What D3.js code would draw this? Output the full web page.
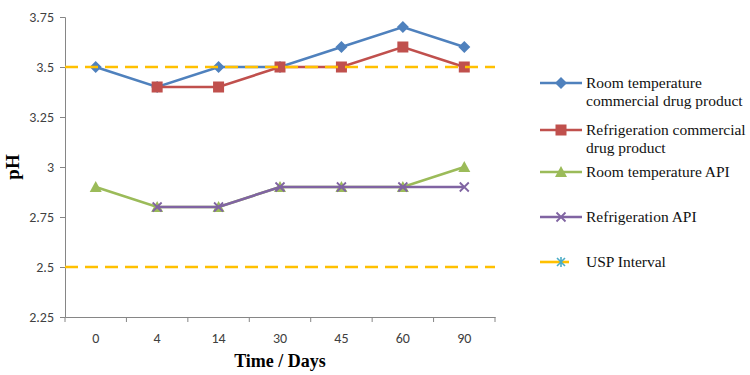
<!DOCTYPE html>
<html>
<head>
<meta charset="utf-8">
<script src="https://cdn.jsdelivr.net/npm/d3@7"></script>
<style>
  body { margin: 0; background: #fff; }
  svg { display: block; }
</style>
</head>
<body>
<svg id="chart" width="750" height="375"></svg>
<script>
// categories and series values
var days = ["0", "4", "14", "30", "45", "60", "90"];
var roomCommercial = [3.5, 3.4, 3.5, 3.5, 3.6, 3.7, 3.6];
var fridgeCommercial = [null, 3.4, 3.4, 3.5, 3.5, 3.6, 3.5];
var roomAPI = [2.9, 2.8, 2.8, 2.9, 2.9, 2.9, 3.0];
var fridgeAPI = [null, 2.8, 2.8, 2.9, 2.9, 2.9, 2.9];
var uspInterval = [3.5, 2.5];
var yTicks = [2.25, 2.5, 2.75, 3, 3.25, 3.5, 3.75];

var series = [
  {name: ["Room temperature", "commercial drug product"], values: roomCommercial, color: "#4F81BD", marker: "diamond"},
  {name: ["Refrigeration commercial", "drug product"], values: fridgeCommercial, color: "#C0504D", marker: "square"},
  {name: ["Room temperature API"], values: roomAPI, color: "#9BBB59", marker: "triangle"},
  {name: ["Refrigeration API"], values: fridgeAPI, color: "#8064A2", marker: "cross"}
];

var plotLeft = 65, plotRight = 495, plotTop = 17, plotBottom = 317;

var svg = d3.select("svg#chart");

var x = d3.scaleBand().domain(days).range([plotLeft, plotRight]).padding(0);
var y = d3.scaleLinear().domain([2.25, 3.75]).range([plotBottom, plotTop]);

var axisColor = "#868686";
var tickFont = "Carlito, Calibri, 'Liberation Sans', Arial, sans-serif";

// y axis
var yAxis = svg.append("g")
    .attr("transform", "translate(" + plotLeft + ",0)")
    .call(d3.axisLeft(y).tickValues(yTicks).tickSize(5).tickPadding(6)
      .tickFormat(function(d) { return String(d); }));
yAxis.select(".domain").attr("stroke", axisColor);
yAxis.selectAll(".tick line").attr("stroke", axisColor);
yAxis.selectAll(".tick text")
    .attr("fill", "#404040")
    .style("font-family", tickFont)
    .style("font-size", "14px");

// x axis (labels at band centers, ticks at band edges)
var xAxis = svg.append("g")
    .attr("transform", "translate(0," + plotBottom + ")")
    .call(d3.axisBottom(x).tickSize(0).tickPadding(16));
xAxis.select(".domain").attr("stroke", axisColor);
xAxis.selectAll(".tick text")
    .attr("fill", "#404040")
    .style("font-family", tickFont)
    .style("font-size", "14px");

var edges = days.map(function(d) { return x(d); }).concat([x.range()[1]]);
svg.append("g").selectAll("line").data(edges).enter().append("line")
    .attr("x1", function(d) { return d; })
    .attr("x2", function(d) { return d; })
    .attr("y1", plotBottom)
    .attr("y2", plotBottom + 5)
    .attr("stroke", axisColor);

// axis titles
svg.append("text")
    .attr("x", (plotLeft + plotRight) / 2)
    .attr("y", 367)
    .attr("text-anchor", "middle")
    .style("font-family", "'Liberation Serif', 'Times New Roman', serif")
    .style("font-weight", "bold")
    .style("font-size", "18px")
    .text("Time / Days");

svg.append("text")
    .attr("transform", "translate(19," + ((plotTop + plotBottom) / 2) + ") rotate(-90)")
    .attr("text-anchor", "middle")
    .style("font-family", "'Liberation Serif', 'Times New Roman', serif")
    .style("font-weight", "bold")
    .style("font-size", "19px")
    .text("pH");

function cx(i) { return x(days[i]) + x.bandwidth() / 2; }

function drawMarker(g, type, color, px, py) {
  if (type === "diamond") {
    g.append("path")
      .attr("d", "M0,-6L6,0L0,6L-6,0Z")
      .attr("transform", "translate(" + px + "," + py + ")")
      .attr("fill", color);
  } else if (type === "square") {
    g.append("rect")
      .attr("x", px - 5.5).attr("y", py - 5.5)
      .attr("width", 11).attr("height", 11)
      .attr("fill", color);
  } else if (type === "triangle") {
    g.append("path")
      .attr("d", "M0,-6L6,5L-6,5Z")
      .attr("transform", "translate(" + px + "," + py + ")")
      .attr("fill", color);
  } else if (type === "cross") {
    g.append("path")
      .attr("d", "M-4.5,-4.5L4.5,4.5M-4.5,4.5L4.5,-4.5")
      .attr("transform", "translate(" + px + "," + py + ")")
      .attr("stroke", color)
      .attr("stroke-width", 1.8)
      .attr("fill", "none");
  } else if (type === "star") {
    g.append("path")
      .attr("d", "M-4,-4L4,4M-4,4L4,-4M0,-5L0,5")
      .attr("transform", "translate(" + px + "," + py + ")")
      .attr("stroke", color)
      .attr("stroke-width", 1.6)
      .attr("fill", "none");
  }
}

var line = d3.line()
    .defined(function(d) { return d != null; })
    .x(function(d, i) { return cx(i); })
    .y(function(d) { return y(d); });

series.forEach(function(s) {
  var g = svg.append("g");
  g.append("path")
    .datum(s.values)
    .attr("d", line)
    .attr("fill", "none")
    .attr("stroke", s.color)
    .attr("stroke-width", 2.6);
  s.values.forEach(function(v, i) {
    if (v != null) drawMarker(g, s.marker, s.color, cx(i), y(v));
  });
});

// USP interval limits
svg.append("g").selectAll("line").data(uspInterval).enter().append("line")
    .attr("x1", plotLeft)
    .attr("x2", plotRight)
    .attr("y1", function(d) { return y(d); })
    .attr("y2", function(d) { return y(d); })
    .attr("stroke", "#FFC000")
    .attr("stroke-width", 2.5)
    .attr("stroke-dasharray", "13,7");

// legend
var legendItems = series.concat([
  {name: ["USP Interval"], color: "#FFC000", marker: "star", short: true}
]);
var legendY = [83, 130, 172, 217, 262];
var legend = svg.append("g").style("font-family", "'Liberation Serif', 'Times New Roman', serif")
    .style("font-size", "15.5px");

legendItems.forEach(function(s, i) {
  var ly = legendY[i];
  var g = legend.append("g");
  g.append("line")
    .attr("x1", 540).attr("x2", s.short ? 569 : 582)
    .attr("y1", ly).attr("y2", ly)
    .attr("stroke", s.color)
    .attr("stroke-width", 2.6);
  if (s.short) {
    drawMarker(g, "star", "#4BACC6", 561, ly);
  } else {
    drawMarker(g, s.marker, s.color, 561, ly);
  }
  s.name.forEach(function(t, j) {
    g.append("text")
      .attr("x", 586)
      .attr("y", ly + 5 + j * 18)
      .attr("fill", "#111")
      .text(t);
  });
});
</script>
</body>
</html>
